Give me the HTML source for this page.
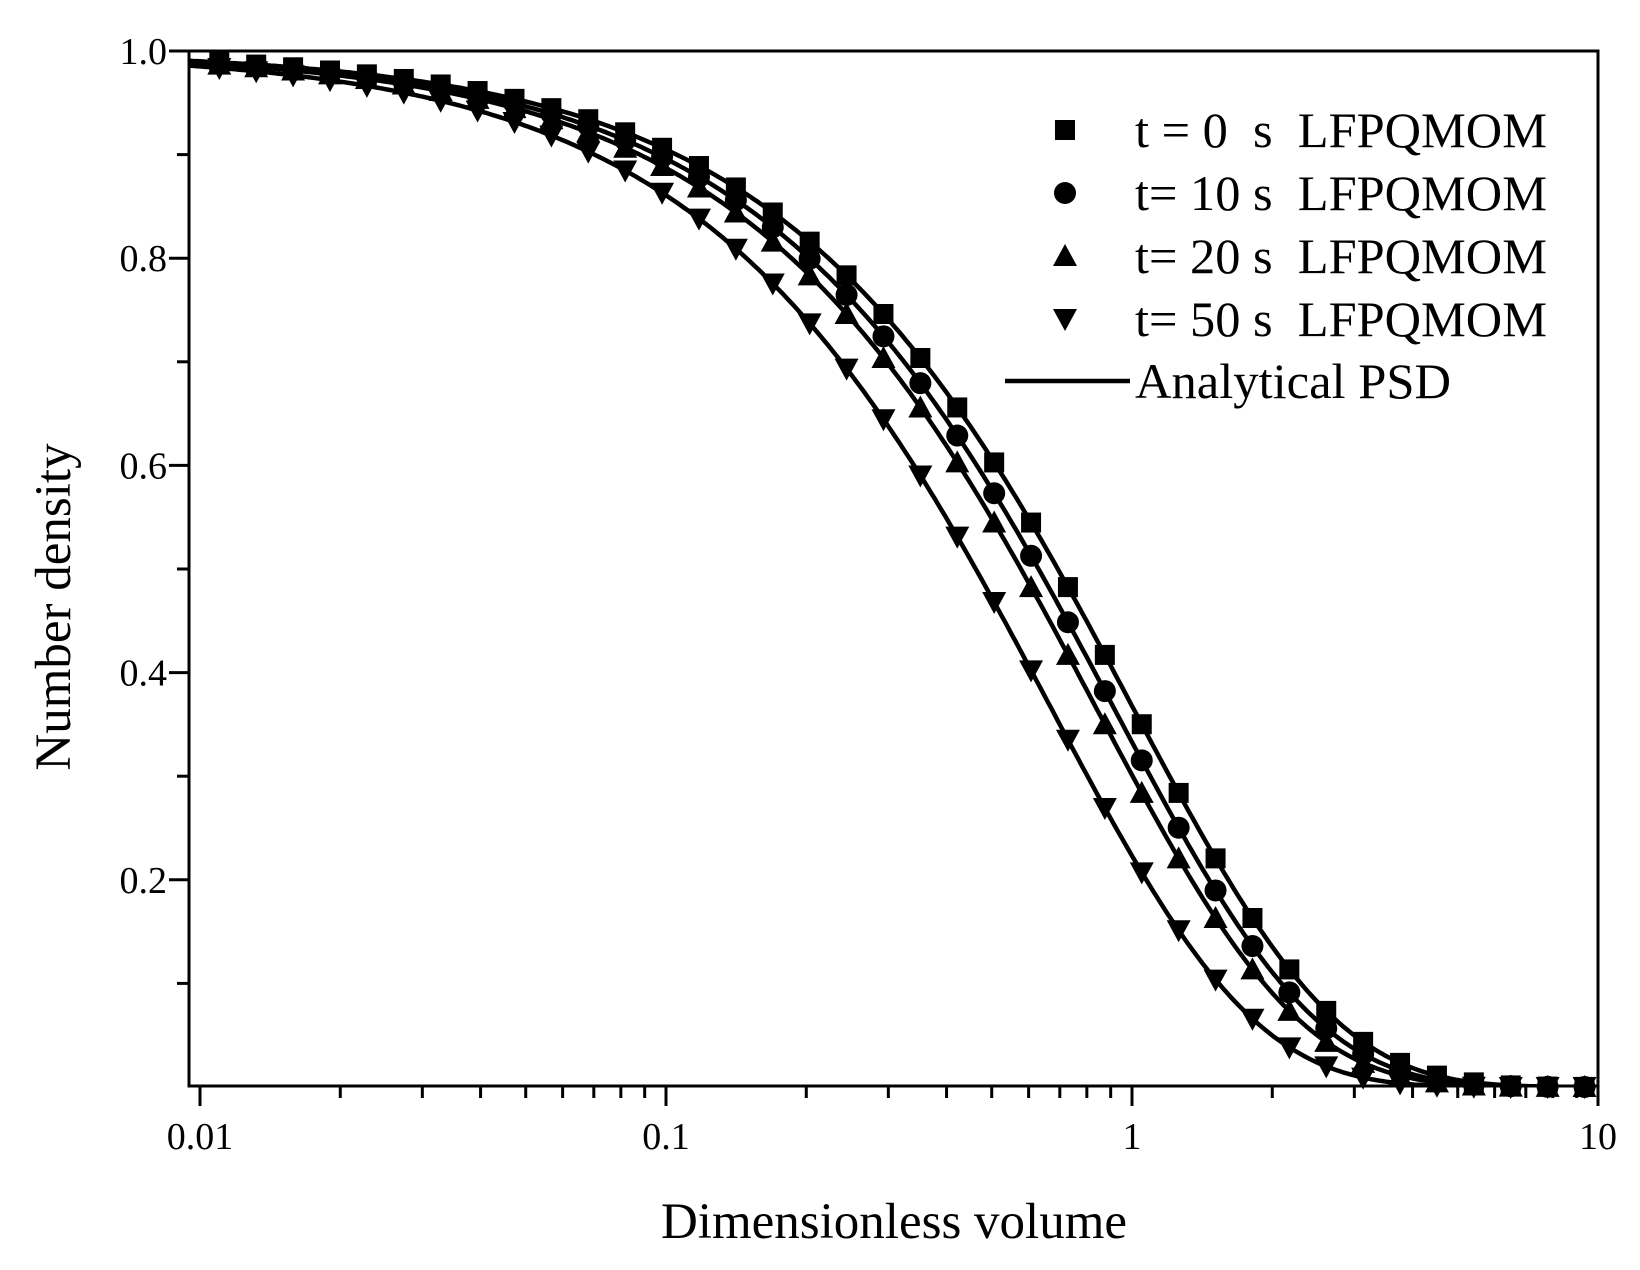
<!DOCTYPE html>
<html><head><meta charset="utf-8"><style>
html,body{margin:0;padding:0;background:#fff;}
svg{display:block;font-family:"Liberation Serif",serif;}
</style></head><body>
<svg id="s" width="1640" height="1270" viewBox="0 0 1640 1270" xmlns="http://www.w3.org/2000/svg"></svg>
<script>
const s=document.getElementById('s');
const X0=189,X1=1598,Y0=51,Y1=1086;
const xd=466;
const xp=v=>1598+Math.log10(v/10)*xd;
const yp=v=>1087-v*1036;
let h='';
h+=`<rect x="${X0}" y="${Y0}" width="${X1-X0}" height="${Y1-Y0}" fill="none" stroke="#000" stroke-width="3"/>`;
for(let d=-2;d<=1;d++){
  for(let m=1;m<=9;m++){
    const v=m*Math.pow(10,d); if(v>10.001)break;
    const x=xp(v); if(x<X0-1)continue;
    const L=(m==1)?20:12;
    h+=`<line x1="${x}" y1="${Y1}" x2="${x}" y2="${Y1+L}" stroke="#000" stroke-width="3"/>`;
    if(m==1)h+=`<text x="${x}" y="${Y1+63}" font-size="38" text-anchor="middle">${v>=1?v:v.toFixed(-d)}</text>`;
  }
}
for(let i=1;i<=10;i++){
  const v=i/10,y=yp(v);
  const maj=(i%2==0);
  h+=`<line x1="${X0}" y1="${y}" x2="${X0-(maj?20:12)}" y2="${y}" stroke="#000" stroke-width="3"/>`;
  if(maj)h+=`<text x="${X0-22}" y="${y+13}" font-size="38" text-anchor="end">${v.toFixed(1)}</text>`;
}
h+=`<text x="894" y="1238" font-size="51" text-anchor="middle">Dimensionless volume</text>`;
h+=`<text transform="translate(70,607) rotate(-90)" font-size="51" text-anchor="middle">Number density</text>`;
const ks=[1,1.1,1.2,1.5];
h+=`<defs><clipPath id="c"><rect x="${X0}" y="${Y0-2}" width="${X1-X0}" height="${Y1-Y0+2}"/></clipPath></defs><g clip-path="url(#c)">`;
ks.forEach(k=>{
  let p='';
  for(let i=0;i<=400;i++){const v=Math.pow(10,-2.03+i*3.03/400);p+=(i?'L':'M')+xp(v).toFixed(1)+','+yp(Math.exp(-k*v)).toFixed(1);}
  h+=`<path d="${p}" fill="none" stroke="#000" stroke-width="4.5"/>`;
});
h+='</g>';
function mk(t,x,y,r){
  if(t==0)return `<rect x="${x-r}" y="${y-r}" width="${2*r}" height="${2*r}" fill="#000"/>`;
  if(t==1)return `<circle cx="${x}" cy="${y}" r="${r+1}" fill="#000"/>`;
  if(t==2)return `<polygon points="${x},${y-r-2} ${x+r+2},${y+r} ${x-r-2},${y+r}" fill="#000"/>`;
  return `<polygon points="${x},${y+r+2} ${x+r+2},${y-r} ${x-r-2},${y-r}" fill="#000"/>`;
}
ks.forEach((k,t)=>{
  for(let i=0;i<=37;i++){const v=0.011*Math.pow(1.2,i);const x=xp(v);if(x>X1)break;h+=mk(t,x,yp(Math.exp(-k*v)),10);}
});
const labs=["t = 0  s  LFPQMOM","t= 10 s  LFPQMOM","t= 20 s  LFPQMOM","t= 50 s  LFPQMOM"];
labs.forEach((l,i)=>{const y=130+i*63;h+=mk(i,1065,y,10);h+=`<text x="1135" y="${y+17}" font-size="50" textLength="412" lengthAdjust="spacingAndGlyphs" xml:space="preserve">${l}</text>`;});
h+=`<line x1="1005" y1="381" x2="1130" y2="381" stroke="#000" stroke-width="4.5"/>`;
h+=`<text x="1135" y="398" font-size="50" textLength="316" lengthAdjust="spacingAndGlyphs">Analytical PSD</text>`;
s.innerHTML=h;
</script>
</body></html>
